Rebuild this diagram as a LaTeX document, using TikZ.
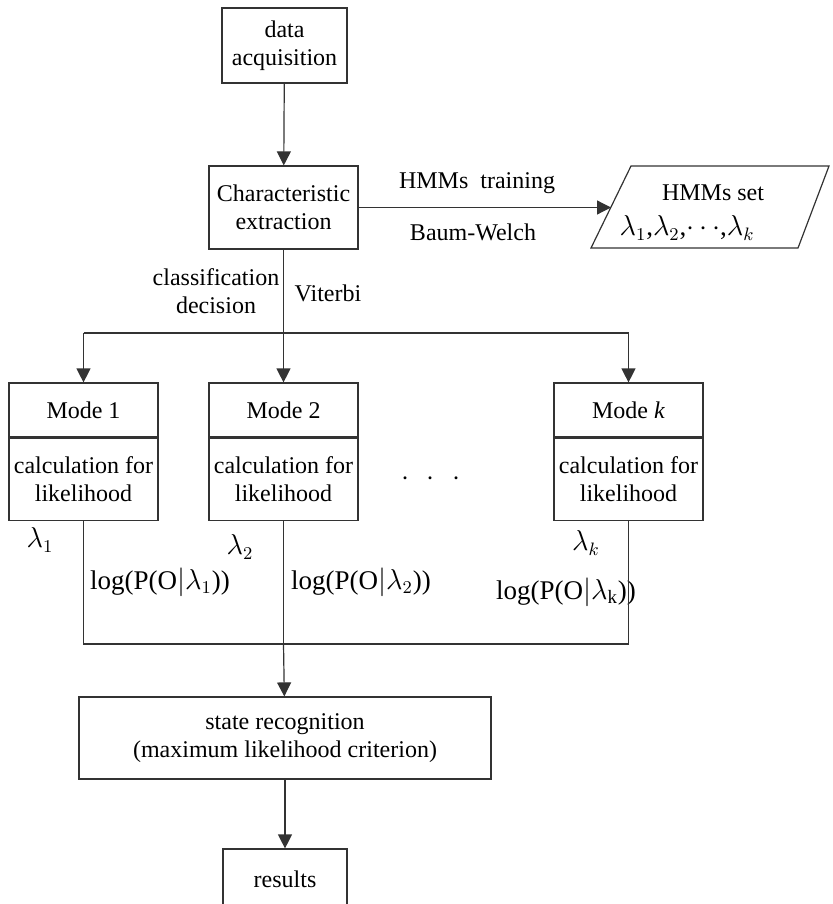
\documentclass[tikz,border=0pt]{standalone}
\usepackage{fontspec}
\setmainfont{Liberation Serif}
\usetikzlibrary{arrows.meta,positioning,calc}

\begin{document}
\begin{tikzpicture}[x=0.5pt,y=-0.5pt,
 every node/.style={font=\fontsize{12}{14}\selectfont},
 blk/.style={draw=black!80,line width=0.6pt,align=center,inner sep=2pt},
 modebox/.style={blk,minimum width=74.5pt},
 arr/.style={draw=black!80,line width=0.6pt,-{Triangle[length=7pt,width=7pt]}},
 ln/.style={draw=black!80,line width=0.6pt},
 lamlab/.style={font=\fontsize{13.5}{16}\selectfont,inner sep=0pt},
 loglab/.style={font=\fontsize{13.5}{16}\selectfont,inner sep=0pt}]
\useasboundingbox (0,0) rectangle (833,904);
\node[blk,minimum width=62.5pt,minimum height=37.5pt] (acq) at (284.5,45.5) {data\\acquisition};
\node[blk,minimum width=74.5pt,minimum height=41.5pt] (feat) at (283.5,207.5) {Characteristic\\extraction};
\coordinate (p1) at (631,166); \coordinate (p2) at (829,166);
\coordinate (p3) at (798,248); \coordinate (p4) at (591,248);
\draw[ln] (p1)--(p2)--(p3)--(p4)--cycle;
\coordinate (hmmin) at (611,207.5);
\node[inner sep=0pt] (hmmtitle) at (713,193) {HMMs set};
\node[lamlab] (hmmlam) at (687,228) {$\lambda_1$,$\lambda_2$,$\cdots$,$\lambda_k$};
\draw[arr] (acq)--(feat);
\draw[arr] (feat)--(hmmin);
\node (train) at (477,183) {HMMs~~training};
\node (baum) at (473,232) {Baum-Welch};
\node[align=center] (clsf) at (216,291) {classification\\decision};
\node (vit) at (328,293) {Viterbi};
\coordinate (split) at (283.5,333);
\foreach \n/\x/\t in {1/83.5/{Mode 1},2/283.5/{Mode 2},k/628.5/{Mode \textit{k}}}{
 \node[modebox,minimum height=27pt] (mode\n) at (\x,410) {\t};
 \node[modebox,minimum height=41pt,below=0pt of mode\n] (calc\n) {calculation for\\likelihood};}
\draw[ln] (feat)--(split);
\draw[ln] (split -| mode1)--(split -| modek);
\foreach \n in {1,2,k}{\draw[arr] (split -| mode\n)--(mode\n);}
\node[font=\fontsize{14}{16}\selectfont] (dots) at (431,479) {$\cdot$\hspace{9pt}$\cdot$\hspace{9pt}$\cdot$};
\node[lamlab] (lam1) at (40,540) {$\lambda_1$};
\node[lamlab] (lam2) at (240,547) {$\lambda_2$};
\node[lamlab] (lamk) at (586,543) {$\lambda_k$};
\node[loglab] (log1) at (160,582) {log(P(O$|\lambda_1$))};
\node[loglab] (log2) at (361,582) {log(P(O$|\lambda_2$))};
\node[loglab] (logk) at (566,592) {log(P(O$|\lambda_{\mathrm{k}}$))};
\coordinate (join) at (283.5,644);
\draw[ln] (calc1)--(join -| calc1)--(join -| calck)--(calck);
\draw[ln] (calc2)--(join);
\node[blk,minimum width=206pt,minimum height=41pt] (state) at (285,738) {state recognition\\(maximum likelihood criterion)};
\node[blk,minimum width=62pt,minimum height=30pt] (res) at (285,879) {results};
\draw[arr] (join)--(state);
\draw[arr] (state)--(res);
\end{tikzpicture}
\end{document}
